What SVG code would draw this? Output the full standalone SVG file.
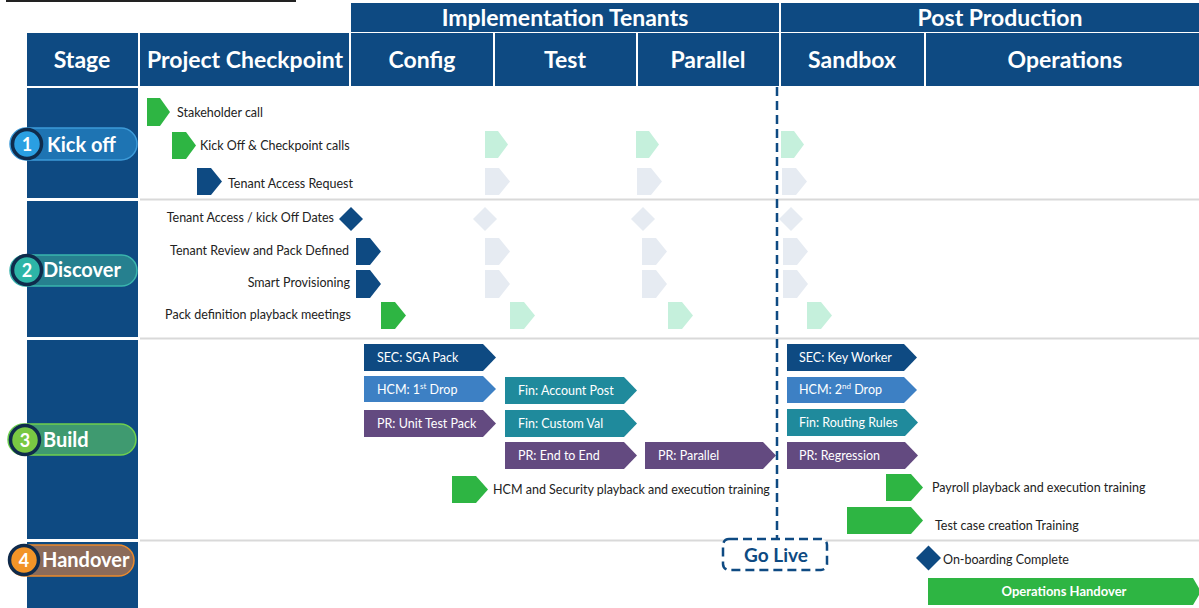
<svg xmlns="http://www.w3.org/2000/svg" width="1199" height="608" viewBox="0 0 1199 608">
<style>
.hdr{fill:#0e4a82}
.ht{font-family:Lato,"Liberation Sans",sans-serif;font-weight:bold;fill:#fff;font-size:23px;text-anchor:middle}
.t{font-family:Lato,"Liberation Sans",sans-serif;font-size:12.5px;fill:#222}
.tr{text-anchor:end}
.bt{font-family:Lato,"Liberation Sans",sans-serif;font-size:12.5px;fill:#fff}
.pt{font-family:Lato,"Liberation Sans",sans-serif;font-weight:bold;font-size:20px;fill:#fff}
.num{font-family:Lato,"Liberation Sans",sans-serif;font-weight:bold;font-size:18px;fill:#fff;text-anchor:middle}
.sep{stroke:#d9d9d9;stroke-width:2}
.navy{fill:#0e4a82}
.green{fill:#2eb543}
.lgreen{fill:#c5f0dc}
.lgray{fill:#e6ebf2}
.blue{fill:#3d80c4}
.teal{fill:#1f8a9c}
.purple{fill:#634a80}
</style>
<rect width="1199" height="608" fill="#fff"/>
<line x1="6" y1="1" x2="296" y2="1" stroke="#222" stroke-width="2"/>

<g id="header">
<rect class="hdr" x="351" y="3" width="428" height="29"/>
<text class="ht" x="565" y="26">Implementation Tenants</text>
<rect class="hdr" x="781" y="3" width="418" height="29"/>
<text class="ht" x="1000" y="26">Post Production</text>
<rect class="hdr" x="27" y="33" width="111" height="53"/>
<text class="ht" x="82" y="68">Stage</text>
<rect class="hdr" x="140" y="33" width="209" height="53"/>
<text class="ht" x="245" y="68">Project Checkpoint</text>
<rect class="hdr" x="351" y="33" width="142" height="53"/>
<text class="ht" x="422" y="68">Config</text>
<rect class="hdr" x="495" y="33" width="141" height="53"/>
<text class="ht" x="565" y="68">Test</text>
<rect class="hdr" x="638" y="33" width="141" height="53"/>
<text class="ht" x="708" y="68">Parallel</text>
<rect class="hdr" x="781" y="33" width="143" height="53"/>
<text class="ht" x="852" y="68">Sandbox</text>
<rect class="hdr" x="926" y="33" width="273" height="53"/>
<text class="ht" x="1065" y="68">Operations</text>
</g>

<g id="stage-column">
<rect class="hdr" x="27" y="88" width="111" height="110"/>
<rect class="hdr" x="27" y="201" width="111" height="136"/>
<rect class="hdr" x="27" y="340" width="111" height="199"/>
<rect class="hdr" x="27" y="542" width="111" height="66"/>
</g>

<g id="separators">
<line class="sep" x1="140" y1="199.5" x2="1199" y2="199.5"/>
<line class="sep" x1="140" y1="338.5" x2="1199" y2="338.5"/>
<line class="sep" x1="140" y1="540.5" x2="1199" y2="540.5"/>
</g>

<g id="stage-kickoff">
<rect x="10" y="128" width="127" height="32" rx="16" fill="#1e74b3" stroke="#3d9bd9" stroke-width="1.5"/>
<circle cx="27" cy="144" r="14.5" fill="#2a9fe2" stroke="#0f2b4c" stroke-width="3.5"/>
<text class="num" x="27" y="150.5">1</text>
<text class="pt" x="47" y="152">Kick off</text>
</g>
<g id="stage-discover">
<rect x="10" y="255" width="127" height="31" rx="15.5" fill="#26808f" stroke="#3ab5ad" stroke-width="1.5"/>
<circle cx="27" cy="270" r="14.5" fill="#2db5a7" stroke="#0f2b4c" stroke-width="3.5"/>
<text class="num" x="27" y="276.5">2</text>
<text class="pt" x="43" y="277">Discover</text>
</g>
<g id="stage-build">
<rect x="8" y="424" width="128" height="31" rx="15.5" fill="#3f9a70" stroke="#6fd04e" stroke-width="1.5"/>
<circle cx="25" cy="440" r="14.5" fill="#79c843" stroke="#0f2b4c" stroke-width="3.5"/>
<text class="num" x="25" y="446.5">3</text>
<text class="pt" x="43" y="447">Build</text>
</g>
<g id="stage-handover">
<rect x="9" y="545" width="125" height="31" rx="15.5" fill="#8b6b5a" stroke="#ec8a2c" stroke-width="1.5"/>
<circle cx="24" cy="560" r="14.5" fill="#f29428" stroke="#0f2b4c" stroke-width="3.5"/>
<text class="num" x="24" y="566.5">4</text>
<text class="pt" x="42" y="567">Handover</text>
</g>

<g id="kickoff-items">
<path class="green" d="M147 98h13l10 14l-10 14h-13z"/>
<text class="t" x="177" y="117">Stakeholder call</text>
<path class="green" d="M172 132h14l10 13.5l-10 13.5h-14z"/>
<text class="t" x="200" y="150">Kick Off &amp; Checkpoint calls</text>
<path class="navy" d="M197 168h14l11 13.5l-11 13.5h-14z"/>
<text class="t" x="228" y="188">Tenant Access Request</text>
<path class="lgreen" d="M485 131h13l10 13.5l-10 13.5h-13z"/>
<path class="lgreen" d="M636 131h13l10 13.5l-10 13.5h-13z"/>
<path class="lgreen" d="M781 131h13l10 13.5l-10 13.5h-13z"/>
<path class="lgray" d="M485 168h14l11 13.5l-11 13.5h-14z"/>
<path class="lgray" d="M637 168h14l11 13.5l-11 13.5h-14z"/>
<path class="lgray" d="M782 168h14l11 13.5l-11 13.5h-14z"/>
</g>

<g id="discover-items">
<text class="t tr" x="334" y="222">Tenant Access / kick Off Dates</text>
<path class="navy" d="M351 207l12 12l-12 12l-12-12z"/>
<path class="lgray" d="M485 207l12 12l-12 12l-12-12z"/>
<path class="lgray" d="M643 207l12 12l-12 12l-12-12z"/>
<path class="lgray" d="M791 207l12 12l-12 12l-12-12z"/>
<text class="t tr" x="349" y="255">Tenant Review and Pack Defined</text>
<path class="navy" d="M356 238h14l11 13.5l-11 13.5h-14z"/>
<path class="lgray" d="M485 238h14l11 13.5l-11 13.5h-14z"/>
<path class="lgray" d="M642 238h14l11 13.5l-11 13.5h-14z"/>
<path class="lgray" d="M783 238h14l11 13.5l-11 13.5h-14z"/>
<text class="t tr" x="350" y="287">Smart Provisioning</text>
<path class="navy" d="M356 270h14l11 14l-11 14h-14z"/>
<path class="lgray" d="M485 270h14l11 14l-11 14h-14z"/>
<path class="lgray" d="M642 270h14l11 14l-11 14h-14z"/>
<path class="lgray" d="M783 270h14l11 14l-11 14h-14z"/>
<text class="t tr" x="351" y="319">Pack definition playback meetings</text>
<path class="green" d="M381 302h14l11 13.5l-11 13.5h-14z"/>
<path class="lgreen" d="M510 302h14l11 13.5l-11 13.5h-14z"/>
<path class="lgreen" d="M668 302h14l11 13.5l-11 13.5h-14z"/>
<path class="lgreen" d="M807 302h14l11 13.5l-11 13.5h-14z"/>
</g>

<g id="build-items">
<path class="navy" d="M364 344h119l13 13.5l-13 13.5h-119z"/>
<text class="bt" x="377" y="362">SEC: SGA Pack</text>
<path class="blue" d="M364 376h119l13 13l-13 13h-119z"/>
<text class="bt" x="377" y="394">HCM: 1<tspan font-size="8" dy="-5">st</tspan><tspan dy="5"> Drop</tspan></text>
<path class="purple" d="M364 410h119l13 13.5l-13 13.5h-119z"/>
<text class="bt" x="377" y="428">PR: Unit Test Pack</text>
<path class="teal" d="M505 377h119l13 13.5l-13 13.5h-119z"/>
<text class="bt" x="518" y="395">Fin: Account Post</text>
<path class="teal" d="M505 410h119l13 13.5l-13 13.5h-119z"/>
<text class="bt" x="518" y="428">Fin: Custom Val</text>
<path class="purple" d="M505 442h119l13 13.5l-13 13.5h-119z"/>
<text class="bt" x="518" y="460">PR: End to End</text>
<path class="purple" d="M645 442h118l13 13.5l-13 13.5h-118z"/>
<text class="bt" x="658" y="460">PR: Parallel</text>
<path class="navy" d="M787 344h117l13 13.5l-13 13.5h-117z"/>
<text class="bt" x="799" y="362">SEC: Key Worker</text>
<path class="blue" d="M787 377h117l13 13l-13 13h-117z"/>
<text class="bt" x="799" y="394">HCM: 2<tspan font-size="8" dy="-5">nd</tspan><tspan dy="5"> Drop</tspan></text>
<path class="teal" d="M787 409h118l13 13.5l-13 13.5h-118z"/>
<text class="bt" x="799" y="427">Fin: Routing Rules</text>
<path class="purple" d="M787 442h118l13 13.5l-13 13.5h-118z"/>
<text class="bt" x="799" y="460">PR: Regression</text>
<path class="green" d="M452 476h24l12 13.5l-12 13.5h-24z"/>
<text class="t" x="493" y="494">HCM and Security playback and execution training</text>
<path class="green" d="M886 474h25l12 13.5l-12 13.5h-25z"/>
<text class="t" x="932" y="492">Payroll playback and execution training</text>
<path class="green" d="M847 507h64l12 13.5l-12 13.5h-64z"/>
<text class="t" x="935" y="530">Test case creation Training</text>
</g>

<g id="handover-items">
<path class="navy" d="M928.5 545.5l12.5 12.5l-12.5 12.5l-12.5-12.5z"/>
<text class="t" x="943" y="564">On-boarding Complete</text>
<path class="green" d="M928 578h265l8 13.5l-8 13.5h-265z"/>
<text x="1064" y="596" font-family="Lato,'Liberation Sans',sans-serif" font-weight="bold" font-size="13px" fill="#fff" text-anchor="middle">Operations Handover</text>
</g>

<g id="connectors">
<line x1="777" y1="87" x2="777" y2="539" stroke="#0e4a82" stroke-width="2.5" stroke-dasharray="9 5"/>
</g>

<g id="go-live">
<rect x="723" y="539" width="104" height="31" rx="6" fill="#fff" stroke="#0e4a82" stroke-width="2.5" stroke-dasharray="9 5"/>
<text x="776" y="562" font-family="Lato,'Liberation Sans',sans-serif" font-weight="bold" font-size="19px" fill="#0e4a82" text-anchor="middle">Go Live</text>
</g>
</svg>
